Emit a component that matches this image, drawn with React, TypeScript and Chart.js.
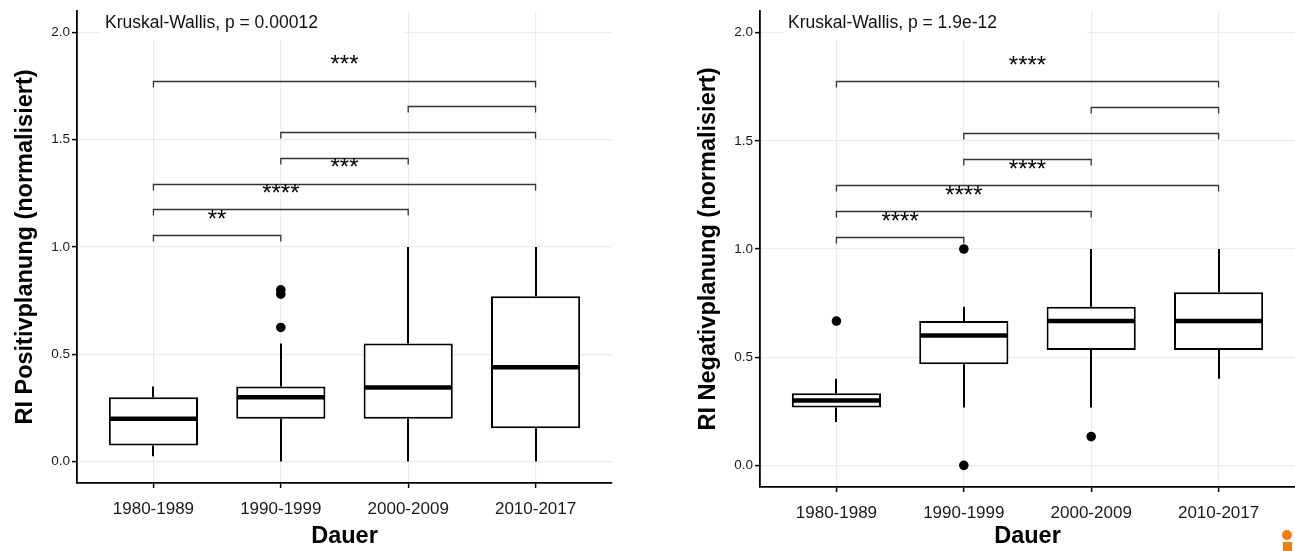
import React, { useEffect, useRef } from "react";
import { Chart, registerables } from "chart.js";

Chart.register(...registerables);

const FONT = "'Liberation Sans', Arial, Helvetica, sans-serif";

const categories = ["1980-1989", "1990-1999", "2000-2009", "2010-2017"];
const yTickValues = [0, 0.5, 1.0, 1.5, 2.0];

// RI Positivplanung
const posLow = [0.025, 0, 0, 0];
const posQ1 = [0.075, 0.2, 0.2, 0.155];
const posMedian = [0.2, 0.3, 0.345, 0.44];
const posQ3 = [0.3, 0.35, 0.55, 0.77];
const posHigh = [0.35, 0.55, 1.0, 1.0];
const posOutlierX = [2, 2, 2];
const posOutlierY = [0.8, 0.78, 0.625];

// RI Negativplanung
const negLow = [0.2, 0.267, 0.267, 0.4];
const negQ1 = [0.267, 0.467, 0.533, 0.533];
const negMedian = [0.3, 0.6, 0.667, 0.667];
const negQ3 = [0.333, 0.667, 0.733, 0.8];
const negHigh = [0.4, 0.733, 1.0, 1.0];
const negOutlierX = [1, 2, 2, 3];
const negOutlierY = [0.667, 1.0, 0, 0.133];

// significance brackets (category index from / to, y value)
const bracketFrom = [1, 1, 1, 2, 2, 3, 1];
const bracketTo = [2, 3, 4, 3, 4, 4, 4];
const bracketY = [1.055, 1.175, 1.295, 1.415, 1.535, 1.655, 1.775];

// star labels (centre x in category units, centre y value)
const posStarText = ["**", "****", "***", "***"];
const negStarText = ["****", "****", "****", "****"];
const starX = [1.5, 2.0, 2.5, 2.5];
const starY = [1.14, 1.26, 1.38, 1.86];

const posKruskal = "Kruskal-Wallis, p = 0.00012";
const negKruskal = "Kruskal-Wallis, p = 1.9e-12";
const kwX = 0.62;
const kwY = 2.02;
const kwBoxX = [0.58, 2.97];
const kwBoxBottom = 1.965;

type PanelData = {
  low: number[];
  q1: number[];
  median: number[];
  q3: number[];
  high: number[];
  outX: number[];
  outY: number[];
  stars: string[];
  kruskal: string;
  yTitle: string;
};

function makePlugin(d: PanelData) {
  return {
    id: "boxExtras",
    beforeDatasetsDraw(chart: any) {
      const { ctx, chartArea, scales } = chart;
      const x = scales.x;
      const y = scales.y;
      ctx.save();
      // white background behind the test label
      const x0 = x.getPixelForValue(kwBoxX[0]);
      const x1 = x.getPixelForValue(kwBoxX[1]);
      const yb = y.getPixelForValue(kwBoxBottom);
      ctx.fillStyle = "#ffffff";
      ctx.fillRect(x0, chartArea.top, x1 - x0, yb - chartArea.top);
      // whiskers
      ctx.strokeStyle = "#000000";
      ctx.lineWidth = 2;
      ctx.lineCap = "butt";
      for (let i = 0; i < categories.length; i++) {
        const px = Math.round(x.getPixelForValue(i + 1));
        ctx.beginPath();
        ctx.moveTo(px, y.getPixelForValue(d.low[i]));
        ctx.lineTo(px, y.getPixelForValue(d.q1[i]));
        ctx.moveTo(px, y.getPixelForValue(d.q3[i]));
        ctx.lineTo(px, y.getPixelForValue(d.high[i]));
        ctx.stroke();
      }
      ctx.restore();
    },
    afterDatasetDraw(chart: any, args: any) {
      if (args.index !== 0) return;
      const { ctx, scales } = chart;
      const y = scales.y;
      const meta = chart.getDatasetMeta(0);
      ctx.save();
      ctx.strokeStyle = "#000000";
      ctx.lineWidth = 4.5;
      ctx.lineCap = "butt";
      meta.data.forEach((el: any, i: number) => {
        const { x, width } = el.getProps(["x", "width"], true);
        const py = y.getPixelForValue(d.median[i]);
        ctx.beginPath();
        ctx.moveTo(x - width / 2 + 1, py);
        ctx.lineTo(x + width / 2 - 1, py);
        ctx.stroke();
      });
      ctx.restore();
    },
    afterDatasetsDraw(chart: any) {
      const { ctx, scales } = chart;
      const x = scales.x;
      const y = scales.y;
      ctx.save();
      // brackets
      ctx.strokeStyle = "#333333";
      ctx.lineWidth = 1.3;
      for (let i = 0; i < bracketY.length; i++) {
        const xa = x.getPixelForValue(bracketFrom[i]);
        const xb = x.getPixelForValue(bracketTo[i]);
        const yy = Math.round(y.getPixelForValue(bracketY[i])) + 0.5;
        ctx.beginPath();
        ctx.moveTo(xa, yy + 6);
        ctx.lineTo(xa, yy);
        ctx.lineTo(xb, yy);
        ctx.lineTo(xb, yy + 6);
        ctx.stroke();
      }
      // stars
      ctx.fillStyle = "#000000";
      ctx.font = `24px ${FONT}`;
      ctx.textAlign = "center";
      ctx.textBaseline = "alphabetic";
      for (let i = 0; i < d.stars.length; i++) {
        ctx.fillText(d.stars[i], x.getPixelForValue(starX[i]), y.getPixelForValue(starY[i]) + 0.41 * 24);
      }
      // Kruskal-Wallis label
      ctx.font = `17.5px ${FONT}`;
      ctx.textAlign = "left";
      ctx.fillStyle = "#111111";
      ctx.fillText(d.kruskal, x.getPixelForValue(kwX), y.getPixelForValue(kwY));
      ctx.restore();
    },
  };
}

function buildChart(canvas: HTMLCanvasElement, d: PanelData, axisWidth: number, xAxisHeight: number, padRight: number) {
  return new Chart(canvas, {
    type: "bar",
    data: {
      datasets: [
        {
          type: "bar",
          data: categories.map((_, i) => ({ x: i + 1, y: [d.q1[i], d.q3[i]] })) as any,
          backgroundColor: "#ffffff",
          borderColor: "#000000",
          borderWidth: 2,
          borderSkipped: false,
          barPercentage: 0.7,
          categoryPercentage: 1.0,
          order: 2,
        } as any,
        {
          type: "scatter",
          data: d.outX.map((v, i) => ({ x: v, y: d.outY[i] })),
          backgroundColor: "#000000",
          borderWidth: 0,
          pointRadius: 4.8,
          order: 1,
        } as any,
      ],
    },
    options: {
      animation: false,
      responsive: false,
      devicePixelRatio: 1,
      layout: { padding: { top: 11, right: padRight, left: 0, bottom: 0 } },
      plugins: { legend: { display: false }, tooltip: { enabled: false } },
      scales: {
        x: {
          type: "linear",
          min: 0.4,
          max: 4.6,
          offset: false,
          afterBuildTicks: (s: any) => {
            s.ticks = categories.map((_, i) => ({ value: i + 1 }));
          },
          afterFit: (s: any) => {
            s.height = xAxisHeight;
          },
          ticks: {
            callback: (v: any) => categories[Math.round(Number(v)) - 1] ?? "",
            font: { family: FONT, size: 17 },
            color: "#1a1a1a",
            padding: 11,
            maxRotation: 0,
            autoSkip: false,
          },
          grid: {
            offset: false,
            color: "#ebebeb",
            lineWidth: 1.2,
            drawTicks: true,
            tickLength: 5,
            tickColor: "#000000",
            tickWidth: 1.5,
          },
          border: { display: true, color: "#000000", width: 1.8 },
          title: {
            display: true,
            text: "Dauer",
            font: { family: FONT, size: 23.5, weight: "bold" },
            color: "#000000",
            padding: { top: 0, bottom: 0 },
          },
        },
        y: {
          type: "linear",
          min: -0.1,
          max: 2.1,
          afterBuildTicks: (s: any) => {
            s.ticks = yTickValues.map((v) => ({ value: v }));
          },
          afterFit: (s: any) => {
            s.width = axisWidth;
          },
          ticks: {
            callback: (v: any) => Number(v).toFixed(1),
            font: { family: FONT, size: 13.5 },
            color: "#1a1a1a",
            padding: 2,
          },
          grid: {
            color: "#ebebeb",
            lineWidth: 1.2,
            drawTicks: true,
            tickLength: 5,
            tickColor: "#000000",
            tickWidth: 1.5,
          },
          border: { display: true, color: "#000000", width: 1.8 },
          title: {
            display: true,
            text: d.yTitle,
            font: { family: FONT, size: 23.5, weight: "bold" },
            color: "#000000",
            padding: { top: 11, bottom: 0 },
          },
        },
      },
    } as any,
    plugins: [makePlugin(d) as any],
  });
}

const posPanel: PanelData = {
  low: posLow,
  q1: posQ1,
  median: posMedian,
  q3: posQ3,
  high: posHigh,
  outX: posOutlierX,
  outY: posOutlierY,
  stars: posStarText,
  kruskal: posKruskal,
  yTitle: "RI Positivplanung (normalisiert)",
};

const negPanel: PanelData = {
  low: negLow,
  q1: negQ1,
  median: negMedian,
  q3: negQ3,
  high: negHigh,
  outX: negOutlierX,
  outY: negOutlierY,
  stars: negStarText,
  kruskal: negKruskal,
  yTitle: "RI Negativplanung (normalisiert)",
};

export default function App() {
  const leftRef = useRef<HTMLCanvasElement | null>(null);
  const rightRef = useRef<HTMLCanvasElement | null>(null);

  useEffect(() => {
    document.body.style.margin = "0";
    document.body.style.overflow = "hidden";
    document.body.style.background = "#ffffff";
    const a = buildChart(leftRef.current!, posPanel, 77, 68, 28);
    const b = buildChart(rightRef.current!, negPanel, 77, 64, 8);
    return () => {
      a.destroy();
      b.destroy();
    };
  }, []);

  return (
    <div style={{ position: "absolute", left: 0, top: 0, width: 1295, height: 551, background: "#ffffff", overflow: "hidden" }}>
      <canvas ref={leftRef} width={640} height={551} style={{ position: "absolute", left: 0, top: 0, width: 640, height: 551 }} />
      <canvas ref={rightRef} width={620} height={551} style={{ position: "absolute", left: 683, top: 0, width: 620, height: 551 }} />
      <div style={{ position: "absolute", left: 1282, top: 530, width: 10, height: 10, borderRadius: 5, background: "#f07f12" }} />
      <div style={{ position: "absolute", left: 1283, top: 542, width: 9, height: 9, background: "#f07f12" }} />
    </div>
  );
}
